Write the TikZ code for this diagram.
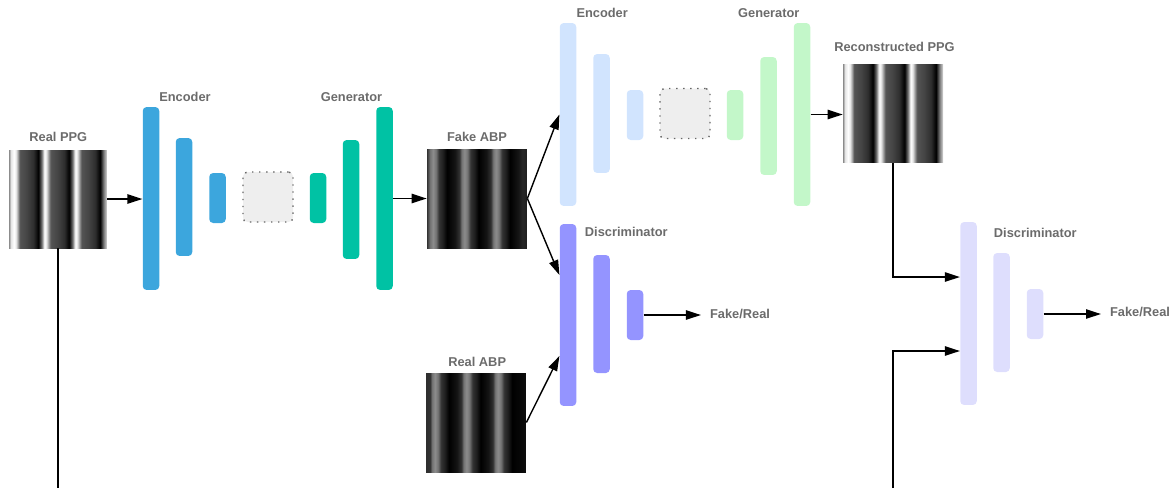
\documentclass[tikz,border=0pt]{standalone}
\usepackage{fontspec}
\setmainfont{Liberation Sans}
\usepackage{tikz}
\usetikzlibrary{arrows.meta}

\definecolor{encblue}{HTML}{3CA6DD}
\definecolor{genteal}{HTML}{00C2A4}
\definecolor{encpale}{HTML}{D1E4FE}
\definecolor{genpale}{HTML}{C3F7C9}
\definecolor{discblue}{HTML}{9494FF}
\definecolor{discpale}{HTML}{DEDEFD}
\definecolor{latentgray}{HTML}{EEEEEE}
\definecolor{labelgray}{HTML}{6B6B6B}

% stripe images (image spans 25bp..75bp of the shading)
\pgfdeclarehorizontalshading{ppgwave}{100bp}{color(0bp)=(black!45); color(25bp)=(black!45); color(26bp)=(black!10); color(27.5bp)=(white); color(28.5bp)=(black!8); color(29.5bp)=(black!35); color(30.5bp)=(black!67); color(34bp)=(black!73); color(37.5bp)=(black!82); color(40bp)=(black); color(41.75bp)=(black!53); color(43bp)=(white); color(44bp)=(black!8); color(45bp)=(black!35); color(46.25bp)=(black!67); color(49.75bp)=(black!73); color(53.25bp)=(black!82); color(55.75bp)=(black); color(57.5bp)=(black!53); color(58.75bp)=(white); color(59.75bp)=(black!8); color(60.75bp)=(black!35); color(62bp)=(black!67); color(65.5bp)=(black!73); color(69bp)=(black!82); color(71.5bp)=(black); color(73.25bp)=(black!53); color(75bp)=(black!15); color(100bp)=(black!15)}
\pgfdeclarehorizontalshading{abpwave}{100bp}{color(0bp)=(black!80); color(25bp)=(black!80); color(26.5bp)=(black!55); color(28bp)=(black!45); color(29.5bp)=(black!55); color(31bp)=(black!80); color(33bp)=(black!88); color(35bp)=(black); color(39bp)=(black!92); color(41.25bp)=(black!80); color(42.25bp)=(black!55); color(43.75bp)=(black!45); color(45.25bp)=(black!55); color(46.75bp)=(black!80); color(48.75bp)=(black!88); color(50.75bp)=(black); color(54.75bp)=(black!92); color(57bp)=(black!80); color(58bp)=(black!55); color(59.5bp)=(black!45); color(61bp)=(black!55); color(62.5bp)=(black!80); color(64.5bp)=(black!88); color(66.5bp)=(black); color(70.5bp)=(black!92); color(72.75bp)=(black!85); color(75bp)=(black!88); color(100bp)=(black!88)}
\pgfdeclarehorizontalshading{realabpwave}{100bp}{color(0bp)=(black!82); color(25bp)=(black!82); color(27bp)=(black!80); color(28bp)=(black!55); color(29.5bp)=(black!45); color(31bp)=(black!55); color(32.5bp)=(black!80); color(34.5bp)=(black!88); color(36.5bp)=(black); color(40.5bp)=(black!92); color(42.75bp)=(black!80); color(43.75bp)=(black!55); color(45.25bp)=(black!45); color(46.75bp)=(black!55); color(48.25bp)=(black!80); color(50.25bp)=(black!88); color(52.25bp)=(black); color(56.25bp)=(black!92); color(58.5bp)=(black!80); color(59.5bp)=(black!55); color(61bp)=(black!45); color(62.5bp)=(black!55); color(64bp)=(black!80); color(66bp)=(black!88); color(68bp)=(black); color(75bp)=(black!95); color(100bp)=(black!95)}

\tikzstyle{flowarrow} = [line width=0.8pt,-{Triangle[length=8.5pt,width=5.3pt]}]
\tikzstyle{netbar} = [rectangle, rounded corners=2.2pt, inner sep=0pt, minimum width=0.33cm]
\tikzstyle{latentbox} = [rectangle, rounded corners=2.5pt, inner sep=0pt, minimum width=1cm, minimum height=1cm, fill=latentgray, draw=black!60, line width=0.8pt, dash pattern=on 0.8pt off 3.2pt]
\tikzstyle{sigimg} = [rectangle, inner sep=0pt, shade, minimum width=2cm, minimum height=1.98cm]
\tikzstyle{lbl} = [text=labelgray, font=\bfseries\fontsize{7.3}{8.5}\selectfont]

\begin{document}
\begin{tikzpicture}[x=0.02cm,y=-0.02cm]
    \useasboundingbox (0,0) rectangle (1172,488);

    % generator path: PPG -> ABP
    \node[sigimg, shading=ppgwave, minimum width=1.96cm, minimum height=1.96cm] (realppg) at (58,199) {};
    \node[lbl] (realppglbl) at (58.3,136.7) {Real PPG};
    \node[netbar, fill=encblue, minimum height=3.66cm] (encA1) at (151,198.5) {};
    \node[netbar, fill=encblue, minimum height=2.36cm] (encA2) at (184,197) {};
    \node[netbar, fill=encblue, minimum height=1cm] (encA3) at (217.5,198) {};
    \node[latentbox] (latA) at (268,197) {};
    \node[netbar, fill=genteal, minimum height=1cm] (genA1) at (318,198) {};
    \node[netbar, fill=genteal, minimum height=2.38cm] (genA2) at (351,199.5) {};
    \node[netbar, fill=genteal, minimum height=3.66cm] (genA3) at (384.5,198.5) {};
    \node[lbl] (encAlbl) at (185,96.7) {Encoder};
    \node[lbl] (genAlbl) at (351.5,96.7) {Generator};
    \node[sigimg, shading=abpwave] (fakeabp) at (477,198.5) {};
    \node[lbl] (fakeabplbl) at (477,136.7) {Fake ABP};

    % reconstruction path: ABP -> PPG
    \node[netbar, fill=encpale, minimum height=3.66cm] (encB1) at (568,114.5) {};
    \node[netbar, fill=encpale, minimum height=2.38cm] (encB2) at (601.5,113.5) {};
    \node[netbar, fill=encpale, minimum height=1cm] (encB3) at (635,115) {};
    \node[latentbox] (latB) at (685,113.5) {};
    \node[netbar, fill=genpale, minimum height=1cm] (genB1) at (735,115) {};
    \node[netbar, fill=genpale, minimum height=2.36cm] (genB2) at (768.5,116) {};
    \node[netbar, fill=genpale, minimum height=3.66cm] (genB3) at (802,114.5) {};
    \node[lbl] (encBlbl) at (602.2,13.3) {Encoder};
    \node[lbl] (genBlbl) at (768.8,13.3) {Generator};
    \node[sigimg, shading=ppgwave] (recppg) at (893,113.5) {};
    \node[lbl] (recppglbl) at (894.5,46.7) {Reconstructed PPG};

    % discriminators
    \node[netbar, fill=discblue, minimum height=3.64cm] (discA1) at (568,315) {};
    \node[netbar, fill=discblue, minimum height=2.36cm] (discA2) at (601.5,314) {};
    \node[netbar, fill=discblue, minimum height=1cm] (discA3) at (635,315) {};
    \node[lbl] (discAlbl) at (626.3,232) {Discriminator};
    \node[lbl, inner sep=5pt] (fakerealA) at (740,313.7) {Fake/Real};
    \node[sigimg, shading=realabpwave] (realabp) at (476,422.5) {};
    \node[lbl] (realabplbl) at (477.2,362) {Real ABP};

    \node[netbar, fill=discpale, minimum height=3.66cm] (discB1) at (968.5,313.5) {};
    \node[netbar, fill=discpale, minimum height=2.38cm] (discB2) at (1001.5,312.5) {};
    \node[netbar, fill=discpale, minimum height=1cm] (discB3) at (1035,314) {};
    \node[lbl] (discBlbl) at (1035.3,232.7) {Discriminator};
    \node[lbl, inner sep=5pt] (fakerealB) at (1140,312.3) {Fake/Real};

    \coordinate (bottomA) at (58,488);
    \coordinate (bottomB) at (893,488);

    % connectors
    \draw[flowarrow] (realppg.east) -- (realppg.east -| encA1.west);
    \draw[flowarrow] (genA3.east) -- (genA3.east -| fakeabp.west);
    \draw[flowarrow] (fakeabp.east) -- (encB1.west);
    \draw[flowarrow] (fakeabp.east) -- ([yshift=0.8cm]discA1.west);
    \draw[flowarrow] (realabp.east) -- ([yshift=-0.82cm]discA1.west);
    \draw[flowarrow] (genB3.east) -- (genB3.east -| recppg.west);
    \draw[flowarrow] (discA3.east) -- (discA3.east -| fakerealA.west);
    \draw[flowarrow] (recppg.south) |- ([yshift=0.73cm]discB1.west);
    \draw[flowarrow] (bottomB) |- ([yshift=-0.75cm]discB1.west);
    \draw[line width=0.8pt] (realppg.south) -- (bottomA);
    \draw[flowarrow] (discB3.east) -- (discB3.east -| fakerealB.west);
\end{tikzpicture}
\end{document}
